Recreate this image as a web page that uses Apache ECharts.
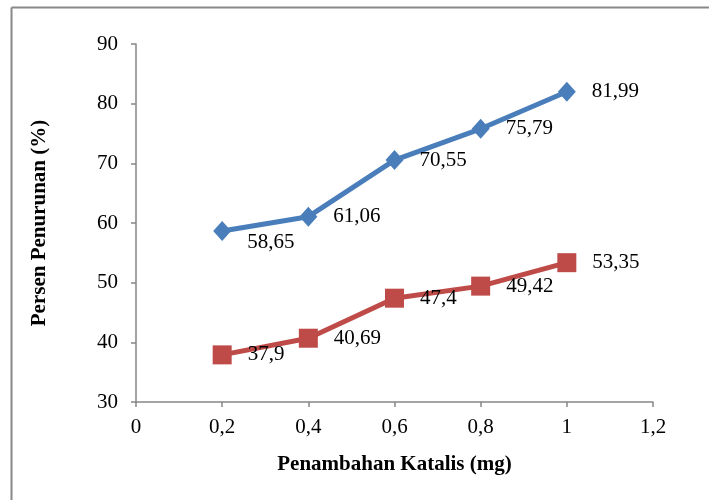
<!DOCTYPE html>
<html><head><meta charset="utf-8">
<script src="https://cdn.jsdelivr.net/npm/echarts@6/dist/echarts.min.js"></script>
<style>html,body{margin:0;padding:0;background:#fff}#c{width:709px;height:500px}</style>
</head><body><div id="c"></div>
<script>
const xValues = [0.2, 0.4, 0.6, 0.8, 1.0];
const seriesBlue = [58.65, 61.06, 70.55, 75.79, 81.99];
const seriesRed = [37.9, 40.69, 47.4, 49.42, 53.35];
const xTitle = 'Penambahan Katalis (mg)';
const yTitle = 'Persen Penurunan (%)';

const fmt = v => String(+(+v).toFixed(2)).replace('.', ',');
const chart = echarts.init(document.getElementById('c'), null, {renderer: 'canvas'});
const font = '"Liberation Serif", "Times New Roman", serif';
const lbl = {show: true, position: 'right', distance: 16, color: '#000', fontFamily: font, fontSize: 21,
  formatter: p => fmt(p.value[1])};
chart.setOption({
  animation: false,
  grid: {left: 136, right: 56, top: 44, bottom: 98, containLabel: false},
  graphic: [
    {type: 'line', shape: {x1: 11.5, y1: 7.5, x2: 709, y2: 7.5}, style: {stroke: '#888', lineWidth: 2}},
    {type: 'line', shape: {x1: 11.5, y1: 7.5, x2: 11.5, y2: 500}, style: {stroke: '#888', lineWidth: 2}}
  ],
  xAxis: {
    type: 'value', min: 0, max: 1.2, interval: 0.2,
    name: xTitle, nameLocation: 'middle', nameGap: 52,
    nameTextStyle: {fontFamily: font, fontSize: 21, fontWeight: 'bold', color: '#000'},
    axisLine: {show: true, lineStyle: {color: '#868686', width: 1.5}},
    axisTick: {show: true, length: 5, lineStyle: {color: '#868686', width: 1.5}},
    axisLabel: {fontFamily: font, fontSize: 21, color: '#000', margin: 15, formatter: fmt},
    splitLine: {show: false}
  },
  yAxis: {
    type: 'value', min: 30, max: 90, interval: 10,
    name: yTitle, nameLocation: 'middle', nameGap: 86, nameRotate: 90,
    nameTextStyle: {fontFamily: font, fontSize: 21, fontWeight: 'bold', color: '#000'},
    axisLine: {show: true, lineStyle: {color: '#868686', width: 1.5}},
    axisTick: {show: true, length: 5, lineStyle: {color: '#868686', width: 1.5}},
    axisLabel: {fontFamily: font, fontSize: 21, color: '#000', margin: 18, formatter: fmt},
    splitLine: {show: false}
  },
  series: [
    {type: 'line', data: xValues.map((x, i) => ({value: [x, seriesBlue[i]],
        label: i === 0 ? {offset: [0, 11]} : undefined})),
     symbol: 'diamond', symbolSize: [18, 20], itemStyle: {color: '#4a7ebb'},
     lineStyle: {color: '#4a7ebb', width: 5}, label: lbl, z: 3},
    {type: 'line', data: xValues.map((x, i) => [x, seriesRed[i]]),
     symbol: 'rect', symbolSize: 19, itemStyle: {color: '#be4b48'},
     lineStyle: {color: '#be4b48', width: 5}, label: lbl, z: 3}
  ]
});
</script></body></html>
